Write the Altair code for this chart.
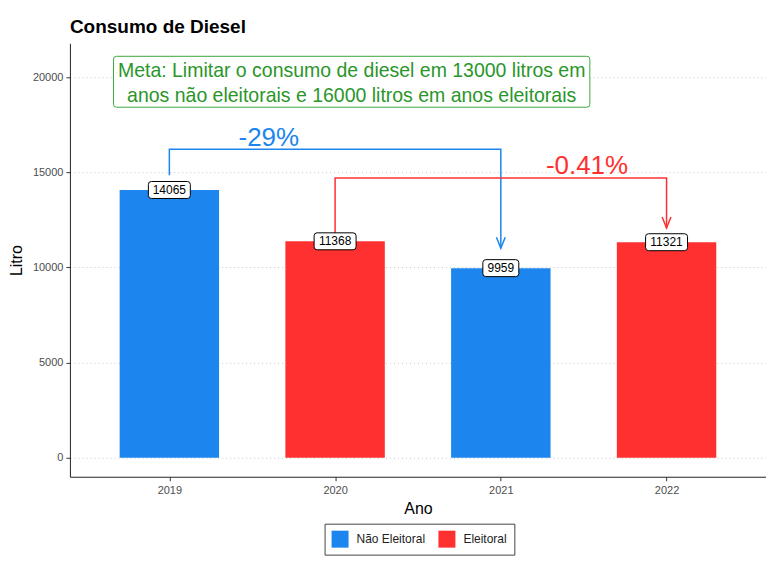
import altair as alt
import pandas as pd

# ---- data ----
anos = [2019, 2020, 2021, 2022]
consumo = [14065, 11368, 9959, 11321]
tipo = ["Não Eleitoral", "Eleitoral", "Não Eleitoral", "Eleitoral"]
rotulos = ["14065", "11368", "9959", "11321"]
tipo_ordem = ["Não Eleitoral", "Eleitoral"]
cores = ["#1C86EE", "#FF3030"]

bracket_grupo = ["a", "a", "a", "a", "b", "b", "b", "b"]
bracket_x = [2019, 2019, 2021, 2021, 2020, 2020, 2022, 2022]
bracket_y = [14840, 16200, 16200, 11000, 11780, 14700, 14700, 12070]
bracket_ordem = [0, 1, 2, 3, 0, 1, 2, 3]
bracket_cor = ["#1C86EE"] * 4 + ["#FF3030"] * 4

seta_x = [2021, 2022]
seta_y = [11000, 12070]
seta_cor = ["#1C86EE", "#FF3030"]

pct_x = [2019.6, 2021.52]
pct_y = [16780, 15300]
pct_txt = ["-29%", "-0.41%"]
pct_cor = ["#1C86EE", "#FF3030"]

meta_x = [2020.1]
meta_y = [19750]
meta_txt = ["Meta: Limitar o consumo de diesel em 13000 litros em\n  anos não eleitorais e 16000 litros em anos eleitorais"]

FONT = "Liberation Sans"


def rrect(hw, hh, r):
    return (f"M{-hw + r},{-hh}H{hw - r}Q{hw},{-hh} {hw},{-hh + r}V{hh - r}Q{hw},{hh} {hw - r},{hh}"
            f"H{-hw + r}Q{-hw},{hh} {-hw},{hh - r}V{-hh + r}Q{-hw},{-hh} {-hw + r},{-hh}Z")


bar_half = 0.3
df = pd.DataFrame({
    "ano": anos,
    "x0": [a - bar_half for a in anos],
    "x1": [a + bar_half for a in anos],
    "consumo": consumo,
    "tipo": tipo,
    "rotulo": rotulos,
    "caixa": [rrect(2.1 if len(r) == 5 else 1.8, 0.85, 0.3) for r in rotulos],
})
df_br = pd.DataFrame({"g": bracket_grupo, "x": bracket_x, "y": bracket_y,
                      "o": bracket_ordem, "c": bracket_cor})
df_seta = pd.DataFrame({"x": seta_x, "y": seta_y, "c": seta_cor})
df_pct = pd.DataFrame({"x": pct_x, "y": pct_y, "t": pct_txt, "c": pct_cor})
df_meta = pd.DataFrame({"x": meta_x, "y": meta_y, "t": meta_txt,
                        "caixa": [rrect(23.85, 2.55, 0.3)]})

xscale = alt.Scale(domain=[2018.4, 2022.6], nice=False, zero=False)
yscale = alt.Scale(domain=[-1000, 21770], nice=False, zero=False)

xaxis = alt.Axis(title="Ano", values=anos, format="d", grid=False,
                 labelFontSize=11, labelColor="#4D4D4D", labelPadding=4,
                 tickSize=4, tickColor="#333333", domainColor="#222222",
                 titleFontSize=16, titleFontWeight="normal", titleColor="black",
                 titlePadding=5)
yaxis = alt.Axis(title="Litro", values=[0, 5000, 10000, 15000, 20000], format="d",
                 grid=True, gridDash=[1, 3], gridColor="#C8C8C8", gridWidth=1,
                 labelFontSize=11, labelColor="#4D4D4D", labelPadding=3,
                 tickSize=4, tickColor="#333333", domainColor="#222222",
                 titleFontSize=16, titleFontWeight="normal", titleColor="black",
                 titlePadding=8)

bars = alt.Chart(df).mark_bar().encode(
    x=alt.X("x0:Q", scale=xscale, axis=xaxis),
    x2="x1:Q",
    y=alt.Y("consumo:Q", scale=yscale, axis=yaxis),
    y2=alt.datum(0),
    color=alt.Color("tipo:N", scale=alt.Scale(domain=tipo_ordem, range=cores),
                    legend=alt.Legend(title=None, orient="none", direction="horizontal",
                                      legendX=255, legendY=481,
                                      symbolType="square", symbolSize=289,
                                      symbolStrokeWidth=0, labelFontSize=12,
                                      labelColor="#222222", padding=7,
                                      strokeColor="#444444",
                                      columnPadding=13, labelOffset=8)),
)

caixas = alt.Chart(df).mark_point(filled=True, fill="white", stroke="black",
                                  strokeWidth=1, opacity=1, size=400).encode(
    x=alt.X("ano:Q", scale=xscale),
    y=alt.Y("consumo:Q", scale=yscale),
    shape=alt.Shape("caixa:N", scale=None),
)
textos = alt.Chart(df).mark_text(fontSize=12, color="black", baseline="middle",
                                 font=FONT).encode(
    x=alt.X("ano:Q", scale=xscale),
    y=alt.Y("consumo:Q", scale=yscale),
    text="rotulo:N",
)

linhas = alt.Chart(df_br).mark_line(strokeWidth=1.5).encode(
    x=alt.X("x:Q", scale=xscale),
    y=alt.Y("y:Q", scale=yscale),
    detail="g:N",
    order="o:Q",
    color=alt.Color("c:N", scale=None),
)
setas = alt.Chart(df_seta).mark_point(filled=False, strokeWidth=1.5, opacity=1,
                                      size=484, shape="M-0.4,-1L0,0L0.4,-1").encode(
    x=alt.X("x:Q", scale=xscale),
    y=alt.Y("y:Q", scale=yscale),
    stroke=alt.Color("c:N", scale=None),
)
pcts = alt.Chart(df_pct).mark_text(fontSize=26, baseline="middle", font=FONT).encode(
    x=alt.X("x:Q", scale=xscale),
    y=alt.Y("y:Q", scale=yscale),
    text="t:N",
    color=alt.Color("c:N", scale=None),
)
meta_caixa = alt.Chart(df_meta).mark_point(filled=True, fill="white", stroke="#3DA83D",
                                           strokeWidth=1, opacity=1, size=400).encode(
    x=alt.X("x:Q", scale=xscale),
    y=alt.Y("y:Q", scale=yscale),
    shape=alt.Shape("caixa:N", scale=None),
)
meta_texto = alt.Chart(df_meta).mark_text(fontSize=19.5, color="#2A962A", baseline="middle",
                                          lineBreak="\n", lineHeight=25, dy=-11,
                                          font=FONT).encode(
    x=alt.X("x:Q", scale=xscale),
    y=alt.Y("y:Q", scale=yscale),
    text="t:N",
)

chart = alt.layer(bars, linhas, setas, caixas, textos, pcts, meta_caixa, meta_texto).properties(
    width=697, height=434,
    title=alt.TitleParams("Consumo de Diesel", anchor="start", frame="group",
                          fontSize=19, fontWeight="bold", color="black", offset=6,
                          font=FONT),
    padding={"left": 0, "top": 10, "right": 0, "bottom": 0},
).configure(font=FONT).configure_view(stroke=None)

chart.save("out.html", embed_options={"renderer": "svg", "actions": False})
